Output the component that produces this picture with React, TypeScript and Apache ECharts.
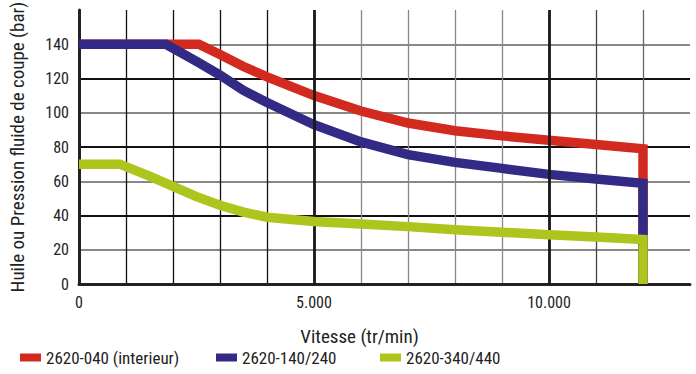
import React, { useEffect, useRef } from "react";
import * as echarts from "echarts";

const seriesNames = ["2620-040 (interieur)", "2620-140/240", "2620-340/440"];
const redX = [0, 2550, 3000, 3500, 4000, 5000, 6000, 7000, 8000, 9000, 10000, 11000, 12000, 12000];
const redY = [140, 140, 134, 127, 121, 110, 101, 94, 89.5, 86.5, 84, 81.5, 79, 0];
const blueX = [0, 1850, 2500, 3000, 3500, 4000, 5000, 6000, 7000, 8000, 9000, 10000, 11000, 12000, 12000];
const blueY = [140, 140, 130, 122, 113, 106, 93, 83, 75.5, 71, 67.5, 64, 61.3, 58.8, 0];
const greenX = [0, 870, 1500, 2000, 2500, 3000, 3500, 4000, 5000, 6000, 7000, 8000, 9000, 10000, 11000, 12000, 12000];
const greenY = [70, 70, 63, 57, 51, 46, 42, 39, 36.5, 35, 33.5, 31.7, 30.2, 28.8, 27.4, 26, 0];
const colors = ["#d22a1e", "#332a86", "#aec51e"];
const thickXLines = [5000, 10000];
const legendLefts = [20, 216, 380];

const FONT = "'Roboto Condensed', 'Liberation Sans', Arial, sans-serif";

export default function App() {
  const ref = useRef<HTMLDivElement>(null);
  useEffect(() => {
    const chart = echarts.init(ref.current!, undefined, { renderer: "svg" });
    const pts = (xs: number[], ys: number[]) => xs.map((x, i) => [x, ys[i]]);
    // vertical grid line colours, one per 1000 step (0..13000)
    const xColors = ["#111", "#111", "#111", "#111", "#111", "#111", "#888", "#888", "#888", "#888", "#111", "#444", "#666", "rgba(0,0,0,0)"];
    const yColors = ["#111", "#888", "#111", "#888", "#111", "#888", "#111", "#888", "rgba(0,0,0,0)"];
    const lineSeries = [pts(redX, redY), pts(blueX, blueY), pts(greenX, greenY)].map((d, i) => ({
      name: seriesNames[i],
      type: "line",
      data: d,
      symbol: "none",
      z: 3 + i,
      lineStyle: { color: colors[i], width: 9.5, cap: "butt", join: "miter" },
      itemStyle: { color: colors[i] },
    }));
    chart.setOption({
      animation: false,
      grid: { left: 79, right: 6, top: 10, bottom: 90, containLabel: false, outerBoundsMode: "none" },
      legend: seriesNames.map((n, i) => ({
        data: [n],
        left: legendLefts[i],
        top: 349,
        padding: 0,
        itemWidth: 21,
        itemHeight: 8,
        icon: "rect",
        textStyle: { fontFamily: FONT, fontSize: 17, color: "#222" },
      })),
      xAxis: {
        type: "value",
        min: 0,
        max: 13000,
        interval: 1000,
        name: "Vitesse (tr/min)",
        nameLocation: "middle",
        nameGap: 43,
        nameTextStyle: { fontFamily: FONT, fontSize: 19, color: "#222", padding: [0, 50, 0, 0] },
        axisLine: { show: true, lineStyle: { color: "#222", width: 3 } },
        axisTick: { show: false },
        axisLabel: {
          fontFamily: FONT,
          fontSize: 16,
          color: "#222",
          margin: 10,
          formatter: (v: number) => (v === 0 ? "0" : v % 5000 === 0 && v <= 10000 ? v / 1000 + ".000" : ""),
        },
        splitLine: { show: true, lineStyle: { color: xColors, width: 1.3 } },
      },
      yAxis: {
        type: "value",
        min: 0,
        max: 160,
        interval: 20,
        name: "Huile ou Pression fluide de coupe (bar)",
        nameLocation: "middle",
        nameGap: 52,
        nameTextStyle: { fontFamily: FONT, fontSize: 19, color: "#222" },
        axisLine: { show: true, lineStyle: { color: "#222", width: 3 } },
        axisTick: { show: false },
        axisLabel: {
          fontFamily: FONT,
          fontSize: 16,
          color: "#222",
          margin: 10,
          formatter: (v: number) => (v === 160 ? "" : String(v)),
        },
        splitLine: { show: true, lineStyle: { color: yColors, width: 1.8 } },
      },
      series: [
        {
          name: "grid-thick",
          type: "line",
          data: [],
          z: 2,
          silent: true,
          markLine: {
            silent: true,
            symbol: "none",
            label: { show: false },
            lineStyle: { color: "#1a1a1a", width: 2.8, type: "solid" },
            data: thickXLines.map((x) => ({ xAxis: x })),
          },
        },
        ...lineSeries,
      ],
    });
    return () => chart.dispose();
  }, []);
  return <div ref={ref} style={{ width: 696, height: 374, position: "absolute", left: 0, top: 0 }} />;
}
